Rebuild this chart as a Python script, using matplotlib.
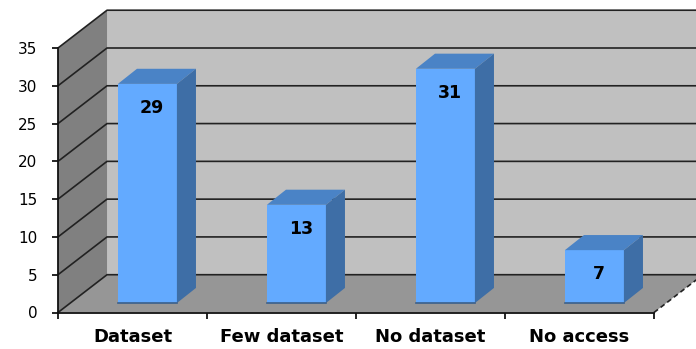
import matplotlib.pyplot as plt
from matplotlib.patches import Polygon

# Survey answers
categories = ["Dataset", "Few dataset", "No dataset", "No access"]
counts = [29, 13, 31, 7]
y_ticks = [0, 5, 10, 15, 20, 25, 30, 35]

# 3D look: depth of the walls and of the bars, in data units
DX, DY = 0.329, 5.0          # full depth of the chart box
BAR_W = 0.396                # bar width in category units
BAR_SHIFT, BAR_BASE = 0.10, 1.25   # bar front face pushed back into the box
BDX, BDY = 0.128, 2.0        # bar depth

fig = plt.figure(figsize=(6.96, 3.49), dpi=100)
ax = fig.add_axes([58 / 696, 36.5 / 349, 596 / 696, 264.5 / 349])
ax.set_xlim(0, 4)
ax.set_ylim(0, 35)
ax.patch.set_visible(False)

n = len(categories)
top = y_ticks[-1]

# walls and floor
back = Polygon([(DX, DY), (n + DX, DY), (n + DX, top + DY), (DX, top + DY)],
               closed=True, facecolor="#c0c0c0", edgecolor="none", zorder=0, clip_on=False)
side = Polygon([(0, 0), (DX, DY), (DX, top + DY), (0, top)],
               closed=True, facecolor="#808080", edgecolor="none", zorder=0, clip_on=False)
floor = Polygon([(0, 0), (n, 0), (n + DX, DY), (DX, DY)],
                closed=True, facecolor="#969696", edgecolor="none", zorder=1, clip_on=False)
for p in (back, side, floor):
    ax.add_patch(p)

# gridlines running along the side wall and the back wall
for v in y_ticks:
    ax.plot([0, DX, n + DX], [v, v + DY, v + DY], color="#222222", lw=1.2,
            zorder=2, clip_on=False, solid_capstyle="butt")
# right edge of the floor
ax.plot([n, n + DX], [0, DY], color="#222222", lw=1.2, ls=(0, (3, 2)),
        zorder=2, clip_on=False)

# bars as boxes: front, top and side faces
for i, v in enumerate(counts):
    x0 = i + 0.5 + BAR_SHIFT - BAR_W / 2
    x1 = x0 + BAR_W
    b = BAR_BASE
    t = b + v
    ax.add_patch(Polygon([(x0, b), (x1, b), (x1, t), (x0, t)], closed=True,
                         facecolor="#63aaff", edgecolor="none", zorder=4, clip_on=False))
    ax.add_patch(Polygon([(x0, t), (x1, t), (x1 + BDX, t + BDY), (x0 + BDX, t + BDY)],
                         closed=True, facecolor="#4a83c6", edgecolor="none", zorder=4,
                         clip_on=False))
    ax.add_patch(Polygon([(x1, b), (x1, t), (x1 + BDX, t + BDY), (x1 + BDX, b + BDY)],
                         closed=True, facecolor="#3e6ea6", edgecolor="none", zorder=4,
                         clip_on=False))
    ax.plot([x0, x1], [b, b], color="#3a5f8a", lw=1.2, zorder=5, clip_on=False)
    ax.text(i + 0.5 + BAR_SHIFT + 0.03, t - 3.2, str(v), ha="center", va="center",
            fontsize=12.5, fontweight="bold", color="black", zorder=6)

# axes
for s in ("top", "right"):
    ax.spines[s].set_visible(False)
for s in ("left", "bottom"):
    ax.spines[s].set_color("#111111")
    ax.spines[s].set_linewidth(1.3)
    ax.spines[s].set_zorder(7)

ax.set_yticks(y_ticks)
ax.tick_params(axis="y", direction="out", length=4.5, width=1.2, pad=10.5,
               labelsize=11, colors="black")
ax.set_xticks(range(n + 1))
ax.set_xticklabels([])
ax.tick_params(axis="x", which="major", direction="out", length=4.5, width=1.2)
ax.set_xticks([i + 0.5 for i in range(n)], minor=True)
ax.set_xticklabels(categories, minor=True, fontsize=13, fontweight="bold")
ax.tick_params(axis="x", which="minor", length=0, pad=11)

fig.savefig("out.png", dpi=100)
